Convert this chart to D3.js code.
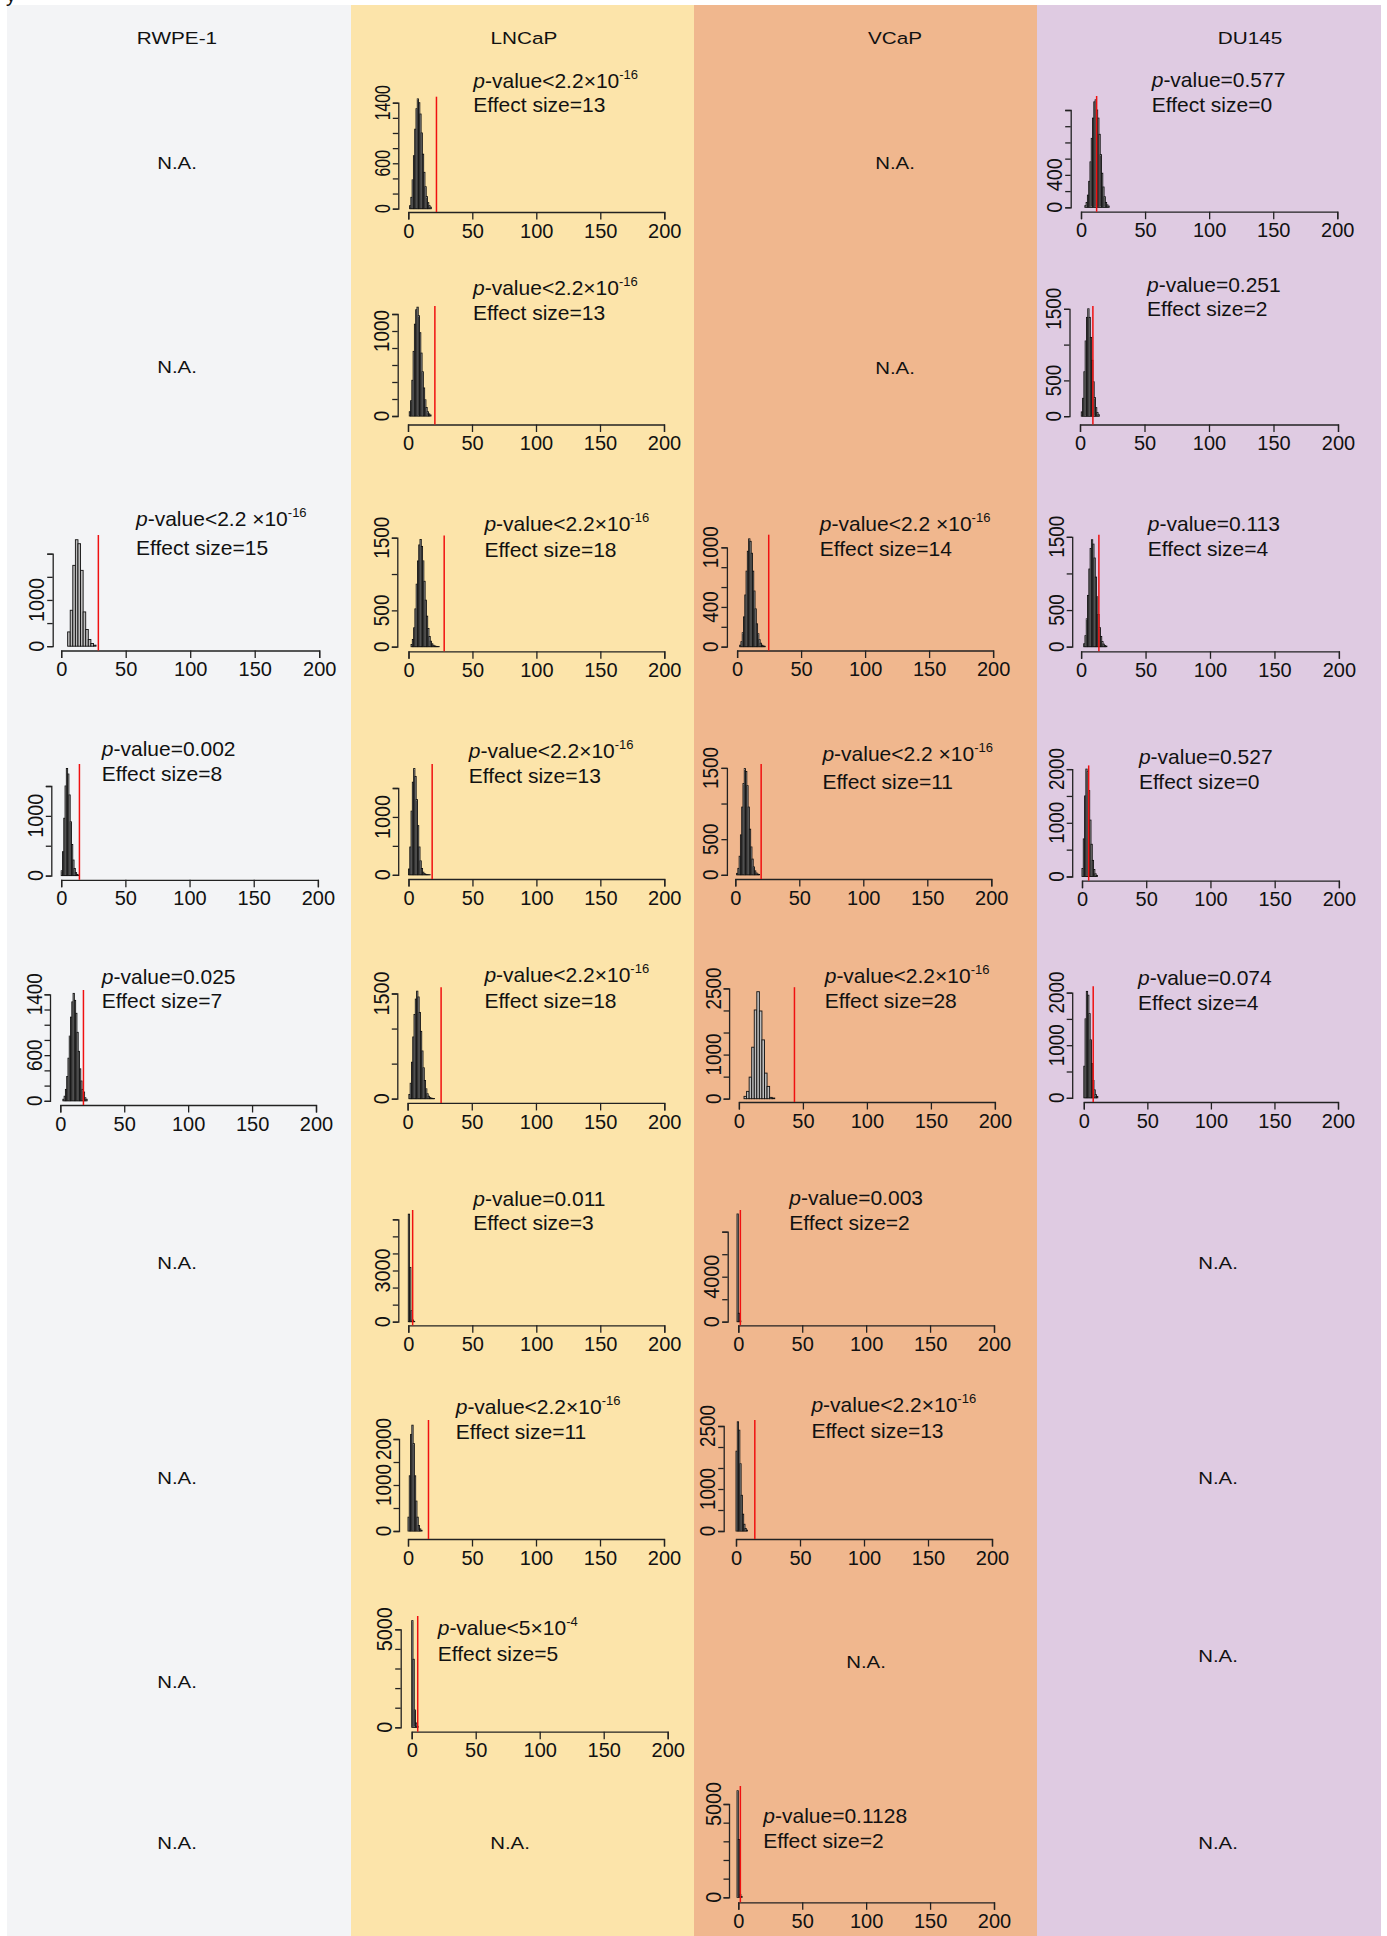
<!DOCTYPE html>
<html><head><meta charset="utf-8">
<script src="https://cdn.jsdelivr.net/npm/d3@7"></script>
<style>
body{margin:0;background:#fff}
svg{display:block}
text{font-family:"Liberation Sans",Arial,Helvetica,sans-serif;fill:#111}
</style>
</head><body>
<svg id="fig" width="1387" height="1936"></svg>
<script>
// ---- data ----
const cellLines = ["RWPE-1", "LNCaP", "VCaP", "DU145"];

// one entry per histogram panel
const panelColumn = [1,3, 1,3, 0,1,2,3, 0,1,2,3, 0,1,2,3, 1,2, 1,2, 1, 2];
const pValueLabels = [
  "<2.2×10^-16", "=0.577",
  "<2.2×10^-16", "=0.251",
  "<2.2 ×10^-16", "<2.2×10^-16", "<2.2 ×10^-16", "=0.113",
  "=0.002", "<2.2×10^-16", "<2.2 ×10^-16", "=0.527",
  "=0.025", "<2.2×10^-16", "<2.2×10^-16", "=0.074",
  "=0.011", "=0.003",
  "<2.2×10^-16", "<2.2×10^-16",
  "<5×10^-4",
  "=0.1128"
];
const effectSizes = [13,0, 13,2, 15,18,14,4, 8,13,11,0, 7,18,28,4, 3,2, 11,13, 5, 2];
const observedValues = [22,12.2, 21,10, 28.8,27.9,24.7,13.8, 14.2,18.5,20.2,5.2, 18.1,26.1,43.4,7.4, 3.4,1.6, 16,14.7, 4.7, 1.6];

const yTickStep = [200,200, 200,500, 500,500,200,500, 500,500,500,500, 200,500,500,500, 1000,2000, 500,500, 1000,1000];
const yTickMax  = [1400,1200, 1200,1500, 2000,1500,1000,1500, 1500,1500,1500,2000, 1400,1500,2500,2000, 6000,8000, 2000,2500, 5000,5000];
const yTickLabels = [
  [0,600,1400], [0,400],
  [0,1000], [0,500,1500],
  [0,1000], [0,500,1500], [0,400,1000], [0,500,1500],
  [0,1000], [0,1000], [0,500,1500], [0,1000,2000],
  [0,600,1400], [0,1500], [0,1000,2500], [0,1000,2000],
  [0,3000], [0,4000],
  [0,1000,2000], [0,1000,2500],
  [0,5000],
  [0,5000]
];
const xTickValues = [0,50,100,150,200];

// null distributions: first break, bin width, counts per bin
const binStart = [1,3, 1,1, 5,2,2,2, 0,0,1,0, 2,1,4,0, 0,-1, 0,0, 0,-1];
const binWidth = [1,1, 1,1, 2,1,1,1, 1,1,1,1, 1,1,2,1, 1,1, 1,1, 1,1];
const histCounts = [
  [40,150,380,700,1050,1320,1450,1400,1250,1000,720,480,290,160,80,40,20],
  [20,60,150,320,560,850,1100,1300,1325,1200,1100,900,650,420,250,130,60,30,15],
  [50,180,420,760,1080,1250,1280,1180,980,740,520,330,190,100,50,25,12],
  [60,250,620,1050,1380,1500,1380,1100,780,480,260,120,50,20],
  [309,777,1748,2302,2216,1640,741,360,144,58,22],
  [30,100,260,520,860,1180,1400,1476,1380,1180,900,640,420,250,140,75,40,20,10,5,3,2],
  [15,50,140,300,520,760,960,1085,1060,940,760,560,380,230,130,70,35,15,8,4],
  [40,150,380,700,1060,1340,1460,1400,1210,950,680,440,260,140,70,35,15,8],
  [80,400,960,1500,1794,1700,1350,900,520,260,120,50,20,8],
  [100,480,1100,1600,1836,1700,1300,850,480,240,110,45,20,8,4,2,1],
  [20,90,260,560,950,1280,1490,1450,1250,950,640,390,220,110,55,25,10,5],
  [150,700,1500,2000,1950,1600,1050,600,300,130,50,20],
  [20,60,150,320,560,850,1100,1300,1412,1320,1150,900,650,420,260,150,115,40,20],
  [60,220,520,880,1200,1420,1533,1450,1230,960,680,440,260,140,70,35,15,8,4,2],
  [53,166,489,1167,2011,2425,1988,1333,580,279,30,15],
  [600,1500,2023,1950,1600,1100,650,330,150,60,25],
  [6300,3180,640,100,20],
  [9573,750,60],
  [300,1200,2100,2300,1900,1200,650,300,120,45,15],
  [1900,2600,2400,1600,850,400,160,60,20],
  [5440,3470,880,220,50],
  [5710,3100,150,40]
];

// "N.A." cells: [column, centre x, centre y]
const naCells = [
  [0,177,163],[0,177,367],[0,177,1263],[0,177,1478],[0,177,1682],[0,177,1843],
  [2,895,163],[2,895,368],[2,866,1662],
  [1,510,1843],
  [3,1218,1263],[3,1218,1478],[3,1218,1656],[3,1218,1843]
];

// ---- layout (pixels) ----
const W = 1387, H = 1936;
const columnBands = [[7,351],[351,694],[694,1037],[1037,1381]];
const columnFills = ["#f3f4f6","#fce4aa","#f0b78e","#dfcbe2"];
const headerX = [177, 524, 895, 1250];
const headerBaseline = 44;

// per panel: y-axis x, x-axis y, px of 0, px of 200, px of count 0, px of top tick,
// plot top, annotation x, annotation baseline, line gap, y label stretch
const panelLayout = [
  [398.3,212,408.3,664.3,208.7,102.7,96.7,473.3,88,24,0.72],
  [1070.7,211.7,1081,1337.3,207.3,110,96,1151.7,87.3,25,0.9],
  [397.7,424.5,408,664,416,314,306,473,295,25,0.86],
  [1069.5,424.5,1080,1338,416.2,308.8,306,1147,291.5,24,0.86],
  [52.7,650.5,61.2,319.2,646.2,553.7,535,136,526,29,0.9],
  [397.3,651.3,408.5,664.3,646.7,537.7,535.6,484.4,530.5,26.5,0.86],
  [726.9,650.5,737.1,993.1,646.7,547.3,534.7,819.8,530.5,25.3,0.86],
  [1072.2,651.3,1081.1,1338.9,646.7,536.8,534.7,1147.8,530.5,25.3,0.86],
  [51.3,879.8,61.2,317.9,875.6,786,764,101.8,755.7,25.3,0.9],
  [398.2,879,408.5,664.3,874.8,788,764,468.8,757.8,25.2,0.9],
  [726.9,879,735.3,991.3,874.8,767.9,764,822.4,761,27.5,0.86],
  [1072.2,880.7,1082,1338.9,876.5,769.1,765.4,1138.9,764,25.3,0.86],
  [50,1105,60.3,316,1100.8,994.3,990,101.8,984.2,24,0.86],
  [397.3,1102.9,407.6,664.3,1098.7,993.5,987.2,484.4,982,26,0.9],
  [729.1,1102,738.9,994.9,1098.7,988.4,987.2,824.7,983,25.2,0.86],
  [1072.2,1102,1083.8,1338,1097.8,992.6,986.3,1138,985,25.3,0.86],
  [398.3,1325.3,408.3,664.3,1321.7,1219.3,1210,473.3,1205.7,24.3,0.9],
  [727.7,1325.3,738.3,994,1321.7,1231.7,1210,789.3,1205,25,0.9],
  [399,1539,408,664,1531,1439,1420,455.7,1414,25,0.86],
  [723.7,1539,736,992,1531,1426,1420,811.4,1412,26,0.86],
  [400.7,1731.7,411.7,667.7,1727.3,1629.3,1616,437.7,1635,25.7,0.9],
  [729,1902.3,738.3,994,1897.3,1804,1786,763.3,1823.3,25,0.9]
];

const svg = d3.select("#fig");

// column backgrounds
svg.selectAll("rect.band").data(columnBands).join("rect")
  .attr("class","band")
  .attr("x", d => d[0]).attr("y", 5)
  .attr("width", d => d[1]-d[0]).attr("height", H-5)
  .attr("fill", (d,i) => columnFills[i]);

// letter clipped at the very top-left edge
svg.append("text").attr("x", 6).attr("y", 2).attr("font-size", 20).text("y");

// column headers
svg.selectAll("text.hdr").data(cellLines).join("text")
  .attr("class","hdr")
  .attr("text-anchor","middle").attr("font-size",17)
  .attr("transform",(d,i) => `translate(${headerX[i]},${headerBaseline}) scale(1.22,1)`)
  .text(d => d);

// N.A. cells
svg.selectAll("text.na").data(naCells).join("text")
  .attr("class","na")
  .attr("text-anchor","middle").attr("font-size",17)
  .attr("transform", d => `translate(${d[1]},${d[2]+6}) scale(1.2,1)`)
  .text("N.A.");

// histogram panels
panelColumn.forEach((col, i) => {
  const L = panelLayout[i];
  const [yAxX, xAxY, px0, px200, py0, pyTop, plotTop, tx, ty, gap, yStretch] = L;
  const g = svg.append("g").attr("class","panel");

  const x = d3.scaleLinear().domain([0,200]).range([px0, px200]);
  const y = d3.scaleLinear().domain([0, yTickMax[i]]).range([py0, pyTop]);

  const counts = histCounts[i], s = binStart[i], w = binWidth[i];
  const bins = counts.map((c,k) => ({lo: s + k*w, hi: s + (k+1)*w, c}));

  g.selectAll("rect.bar").data(bins).join("rect")
    .attr("class","bar")
    .attr("x", d => x(d.lo))
    .attr("width", d => x(d.hi) - x(d.lo))
    .attr("y", d => y(d.c))
    .attr("height", d => y(0) - y(d.c))
    .attr("fill","#bdbdbd")
    .attr("stroke","#111")
    .attr("stroke-width",0.9);

  // x axis
  const xa = g.append("g").attr("transform",`translate(0,${xAxY})`)
    .call(d3.axisBottom(x).tickValues(xTickValues).tickSizeOuter(0).tickSize(7.5).tickPadding(4));
  xa.select(".domain").attr("stroke","#222").attr("stroke-width",1.3);
  xa.selectAll(".tick line").attr("stroke","#222").attr("stroke-width",1.3);
  xa.selectAll(".tick text").attr("font-size",20).attr("font-family",null).attr("fill","#111");

  // y axis, labels drawn rotated
  const yTicks = d3.range(0, yTickMax[i] + 1, yTickStep[i]);
  const ya = g.append("g").attr("transform",`translate(${yAxX},0)`)
    .call(d3.axisLeft(y).tickValues(yTicks).tickSizeOuter(0).tickSize(5.5).tickFormat(""));
  ya.select(".domain").attr("stroke","#222").attr("stroke-width",1.3);
  ya.selectAll(".tick line").attr("stroke","#222").attr("stroke-width",1.3);
  g.selectAll("text.ylab").data(yTickLabels[i]).join("text")
    .attr("class","ylab")
    .attr("text-anchor","middle").attr("font-size",22)
    .attr("transform", v => `translate(${yAxX-8.5},${y(v)}) rotate(-90) scale(${yStretch},1)`)
    .text(v => v);

  // observed value
  g.append("line")
    .attr("x1", x(observedValues[i])).attr("x2", x(observedValues[i]))
    .attr("y1", plotTop).attr("y2", xAxY)
    .attr("stroke","#f01010").attr("stroke-width",1.5);

  // annotation
  const parts = pValueLabels[i].split("^");
  const t = g.append("text").attr("x", tx).attr("y", ty).attr("font-size",21);
  t.append("tspan").attr("font-style","italic").text("p");
  t.append("tspan").text("-value" + parts[0]);
  if (parts[1]) t.append("tspan").attr("font-size",13).attr("dy",-9).text(parts[1]);
  g.append("text").attr("x", tx).attr("y", ty + gap).attr("font-size",21)
    .text("Effect size=" + effectSizes[i]);
});
</script>
</body></html>
